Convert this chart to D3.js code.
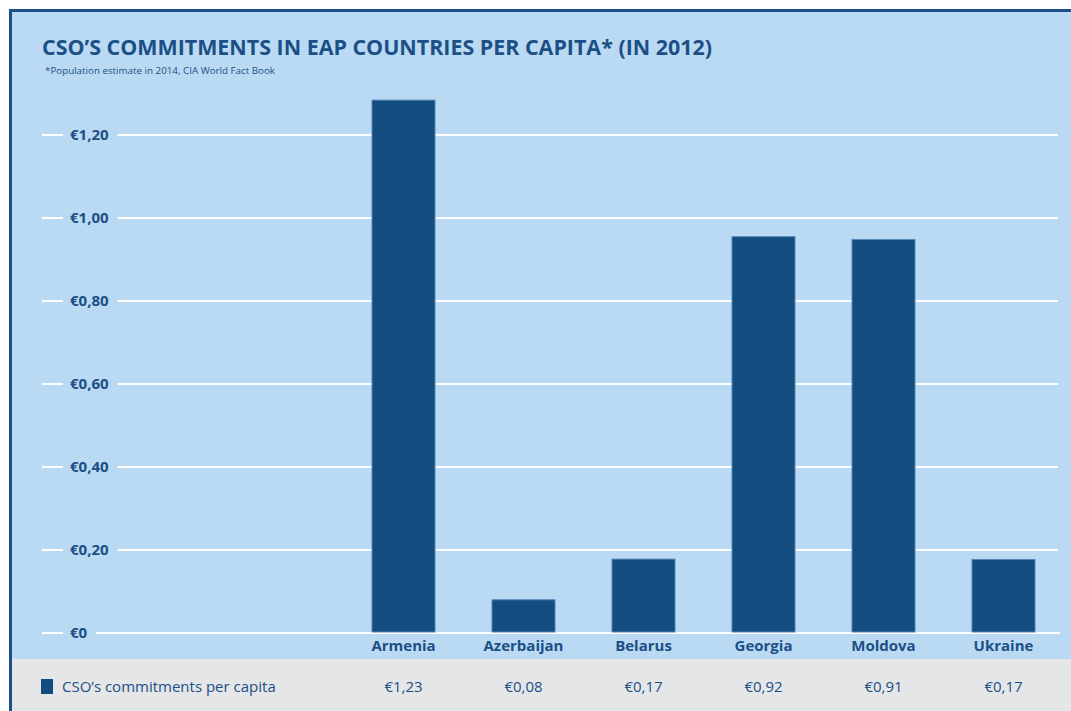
<!DOCTYPE html>
<html>
<head>
<meta charset="utf-8" />
<title>CSO commitments per capita</title>
<script src="https://d3js.org/d3.v7.min.js"></script>
<style>
  body { margin: 0; background: #fff; }
  text { font-family: "Open Sans", "Noto Sans", sans-serif; fill: #1c4f86; }
</style>
</head>
<body>
<div id="chart"></div>
<script>
// categories (two empty slots before Armenia, as in the original layout)
const slots = ["_a", "_b", "Armenia", "Azerbaijan", "Belarus", "Georgia", "Moldova", "Ukraine"];
const countries = ["Armenia", "Azerbaijan", "Belarus", "Georgia", "Moldova", "Ukraine"];
// bar heights as drawn in the picture
const barValues = [1.284, 0.08, 0.178, 0.955, 0.948, 0.177];
// values printed in the table row
const tableLabels = ["€1,23", "€0,08", "€0,17", "€0,92", "€0,91", "€0,17"];
const yTicks = [0, 0.2, 0.4, 0.6, 0.8, 1.0, 1.2];
const tickLabels = ["€0", "€0,20", "€0,40", "€0,60", "€0,80", "€1,00", "€1,20"];

const W = 1071, H = 711;
const svg = d3.select("#chart").append("svg")
    .attr("width", W).attr("height", H);

// panel backgrounds
svg.append("rect").attr("x", 10).attr("y", 10).attr("width", W - 10).attr("height", 650)
    .attr("fill", "#b9daf2");
svg.append("rect").attr("x", 10).attr("y", 659).attr("width", W - 10).attr("height", 52)
    .attr("fill", "#e5e6e8");
// frame
svg.append("rect").attr("x", 9).attr("y", 9).attr("width", W).attr("height", 3).attr("fill", "#1d5088");
svg.append("rect").attr("x", 9).attr("y", 9).attr("width", 3).attr("height", H).attr("fill", "#1d5088");

// title
svg.append("text").attr("x", 42).attr("y", 55)
    .attr("font-size", 21).attr("font-weight", 700)
    .attr("textLength", 670).attr("lengthAdjust", "spacingAndGlyphs")
    .text("CSO’S COMMITMENTS IN EAP COUNTRIES PER CAPITA* (IN 2012)");
svg.append("text").attr("x", 45).attr("y", 74)
    .attr("font-size", 9.5)
    .attr("textLength", 230).attr("lengthAdjust", "spacingAndGlyphs")
    .text("*Population estimate in 2014, CIA World Fact Book");

const x = d3.scaleBand().domain(slots).range([103.5, 1063.5])
    .paddingInner(0.475).paddingOuter(0.2375);
const y = d3.scaleLinear().domain([0, 1.2]).range([633, 135]);

// gridlines + tick labels
const ticks = svg.append("g").selectAll("g").data(yTicks).join("g")
    .attr("transform", d => `translate(0,${y(d)})`);
ticks.append("text")
    .attr("x", 70).attr("dy", "0.35em")
    .attr("font-size", 15).attr("font-weight", 700)
    .text((d, i) => tickLabels[i]);
ticks.each(function(d) {
    const g = d3.select(this);
    const tw = g.select("text").node().getComputedTextLength();
    g.append("line").attr("x1", 42).attr("x2", 63)
        .attr("stroke", "#fff").attr("stroke-width", 2);
    g.append("line").attr("x1", 70 + tw + 9).attr("x2", d === 0 ? 1060 : 1058)
        .attr("stroke", "#fff").attr("stroke-width", 2);
});

// bars
svg.append("g").selectAll("rect").data(countries).join("rect")
    .attr("x", d => x(d))
    .attr("width", x.bandwidth())
    .attr("y", (d, i) => y(barValues[i]))
    .attr("height", (d, i) => y(0) - y(barValues[i]) - 1)
    .attr("fill", "#134c7f")
    .attr("stroke", "#5585b8").attr("stroke-width", 1);

// category labels
svg.append("g").selectAll("text").data(countries).join("text")
    .attr("x", d => x(d) + x.bandwidth() / 2)
    .attr("y", 651)
    .attr("text-anchor", "middle")
    .attr("font-size", 15).attr("font-weight", 700)
    .text(d => d);

// table row
svg.append("rect").attr("x", 41).attr("y", 679).attr("width", 12).attr("height", 15).attr("fill", "#134c7f");
svg.append("text").attr("x", 62).attr("y", 692)
    .attr("font-size", 15)
    .text("CSO’s commitments per capita");
svg.append("g").selectAll("text").data(countries).join("text")
    .attr("x", d => x(d) + x.bandwidth() / 2)
    .attr("y", 692)
    .attr("text-anchor", "middle")
    .attr("font-size", 15)
    .text((d, i) => tableLabels[i]);
</script>
</body>
</html>
